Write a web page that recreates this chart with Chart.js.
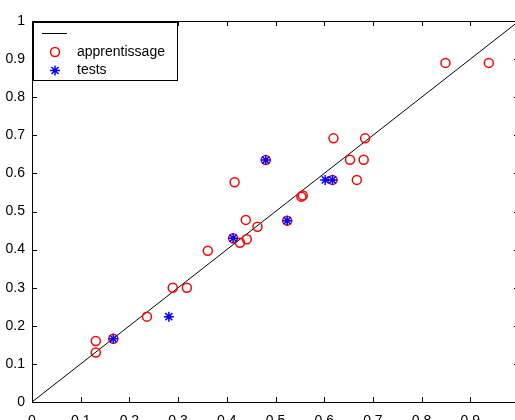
<!DOCTYPE html>
<html>
<head>
<meta charset="utf-8">
<script src="https://cdn.jsdelivr.net/npm/chart.js@4.4.1/dist/chart.umd.min.js"></script>
<style>
  html, body { margin: 0; padding: 0; background: #fff; }
  #wrap { width: 515px; height: 420px; overflow: hidden; position: relative; }
  canvas { display: block; }
</style>
</head>
<body>
<div id="wrap"><canvas id="c" width="540" height="420"></canvas></div>
<script>
// Learning-set points (estimated vs. reference values)
const trainX = [0.131, 0.131, 0.167, 0.236, 0.289, 0.318, 0.361, 0.413, 0.427, 0.441, 0.439, 0.463,
                0.416, 0.480, 0.524, 0.553, 0.556, 0.617, 0.667, 0.619, 0.684, 0.653, 0.681, 0.849, 0.938];
const trainY = [0.160, 0.130, 0.166, 0.224, 0.300, 0.300, 0.397, 0.430, 0.418, 0.427, 0.478, 0.460,
                0.577, 0.635, 0.476, 0.539, 0.542, 0.583, 0.583, 0.692, 0.692, 0.636, 0.636, 0.890, 0.890];
// Test-set points
const testX = [0.167, 0.281, 0.413, 0.480, 0.524, 0.602, 0.617];
const testY = [0.166, 0.224, 0.430, 0.635, 0.476, 0.583, 0.583];
// Identity line y = x
const diagX = [0, 1];
const diagY = [0, 1];
// Axis tick labels
const xTickLabels = ['0', '0.1', '0.2', '0.3', '0.4', '0.5', '0.6', '0.7', '0.8', '0.9', '1'];
const yTickLabels = ['0', '0.1', '0.2', '0.3', '0.4', '0.5', '0.6', '0.7', '0.8', '0.9', '1'];
const legendLabels = ['', 'apprentissage', 'tests'];

const toPoints = (xs, ys) => xs.map((x, i) => ({ x: x, y: ys[i] }));
const FONT = "'Liberation Sans', Arial, sans-serif";

// Inward tick marks on all four sides, plus the box around the axes
const frameTicks = {
  id: 'frameTicks',
  afterDraw(chart) {
    const { ctx, chartArea: a, scales } = chart;
    const L = 5;
    ctx.save();
    ctx.strokeStyle = '#000';
    ctx.lineWidth = 1;
    ctx.beginPath();
    scales.x.ticks.forEach(t => {
      const px = Math.round(scales.x.getPixelForValue(t.value)) + 0.5;
      ctx.moveTo(px, a.bottom); ctx.lineTo(px, a.bottom - L);
      ctx.moveTo(px, a.top); ctx.lineTo(px, a.top + L);
    });
    scales.y.ticks.forEach(t => {
      const py = Math.round(scales.y.getPixelForValue(t.value)) + 0.5;
      ctx.moveTo(a.left, py); ctx.lineTo(a.left + L, py);
      ctx.moveTo(a.right, py); ctx.lineTo(a.right - L, py);
    });
    ctx.stroke();
    ctx.strokeRect(Math.round(a.left) + 0.5, Math.round(a.top) + 0.5,
                   Math.round(a.right - a.left), Math.round(a.bottom - a.top));
    ctx.restore();
  }
};

// Boxed legend in the upper-left corner of the axes
const boxLegend = {
  id: 'boxLegend',
  afterDraw(chart) {
    const { ctx } = chart;
    const ds = chart.data.datasets;
    const bx = 33.5, by = 22.5, bw = 144, bh = 58;
    ctx.save();
    ctx.fillStyle = '#fff';
    ctx.fillRect(bx, by, bw, bh);
    ctx.strokeStyle = '#000';
    ctx.lineWidth = 1;
    ctx.strokeRect(bx, by, bw, bh);
    const rows = [33.5, 52, 70.5];
    const symX = 55;
    ds.forEach((d, i) => {
      const y = rows[i];
      if (d.showLine) {
        ctx.strokeStyle = d.borderColor;
        ctx.lineWidth = d.borderWidth;
        ctx.beginPath();
        ctx.moveTo(42, y); ctx.lineTo(67, y);
        ctx.stroke();
      } else {
        ctx.save();
        ctx.strokeStyle = d.pointBorderColor;
        ctx.fillStyle = 'rgba(0,0,0,0)';
        ctx.lineWidth = d.pointBorderWidth;
        Chart.helpers.drawPoint(ctx, {
          pointStyle: d.pointStyle, radius: d.pointRadius, borderWidth: d.pointBorderWidth,
          rotation: 0
        }, symX, y);
        ctx.restore();
      }
      if (legendLabels[i]) {
        ctx.fillStyle = '#000';
        ctx.font = '14px ' + FONT;
        ctx.textBaseline = 'middle';
        ctx.textAlign = 'left';
        ctx.fillText(legendLabels[i], 77, y);
      }
    });
    ctx.restore();
  }
};

new Chart(document.getElementById('c'), {
  type: 'scatter',
  data: {
    datasets: [
      {
        label: legendLabels[0],
        data: toPoints(diagX, diagY),
        showLine: true,
        borderColor: '#000',
        borderWidth: 1,
        pointRadius: 0,
        order: 2
      },
      {
        label: legendLabels[1],
        data: toPoints(trainX, trainY),
        pointStyle: 'circle',
        pointRadius: 4.5,
        pointBorderWidth: 1.5,
        pointBorderColor: '#ff0000',
        pointBackgroundColor: 'rgba(0,0,0,0)',
        borderColor: '#ff0000',
        order: 1
      },
      {
        label: legendLabels[2],
        data: toPoints(testX, testY),
        pointStyle: 'star',
        pointRadius: 5,
        pointBorderWidth: 1.5,
        pointBorderColor: '#0000ff',
        pointBackgroundColor: '#0000ff',
        borderColor: '#0000ff',
        order: 0
      }
    ]
  },
  options: {
    responsive: false,
    animation: false,
    devicePixelRatio: 1,
    layout: { padding: { top: 21, right: 21, left: 0, bottom: 0 } },
    plugins: { legend: { display: false }, tooltip: { enabled: false } },
    elements: { line: { tension: 0 } },
    scales: {
      x: {
        type: 'linear', min: 0, max: 1,
        grid: { display: false, drawTicks: false, tickLength: 0 },
        border: { display: false },
        afterFit(s) { s.height = 18; },
        ticks: {
          stepSize: 0.1, padding: 11, color: '#000', maxRotation: 0, autoSkip: false,
          font: { family: FONT, size: 14 },
          callback: (v, i) => xTickLabels[i]
        }
      },
      y: {
        type: 'linear', min: 0, max: 1,
        grid: { display: false, drawTicks: false, tickLength: 0 },
        border: { display: false },
        afterFit(s) { s.width = 32; },
        ticks: {
          stepSize: 0.1, padding: 7, color: '#000', autoSkip: false,
          font: { family: FONT, size: 14 },
          callback: (v, i) => yTickLabels[i]
        }
      }
    }
  },
  plugins: [frameTicks, boxLegend]
});
</script>
</body>
</html>
